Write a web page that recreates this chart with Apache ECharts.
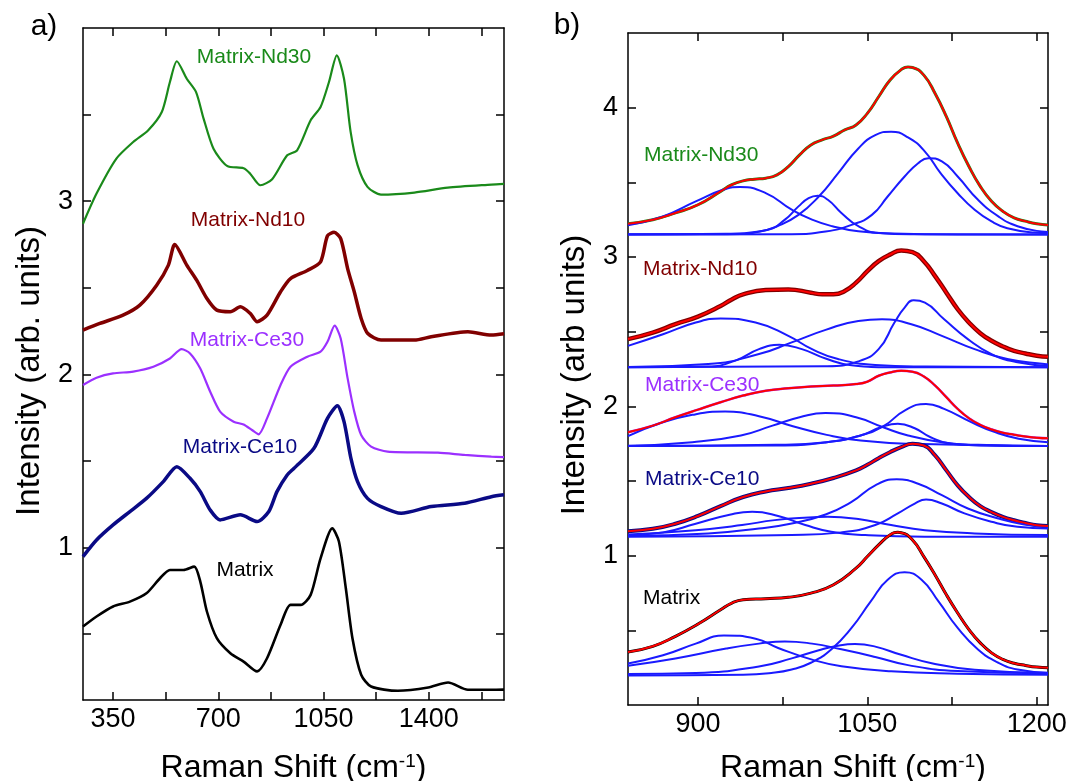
<!DOCTYPE html>
<html>
<head>
<meta charset="utf-8">
<script src="https://cdn.jsdelivr.net/npm/echarts@6/dist/echarts.min.js"></script>
<style>
  html, body { margin: 0; padding: 0; background: #fff; }
  #chart { width: 1069px; height: 781px; }
</style>
</head>
<body>
<div id="chart"></div>
<script>
// ---- panel a: raw spectra [shift, intensity] ----
const specNd30 = [[250,2.87],[295,3.044],[361,3.246],[417,3.342],[467,3.41],[512,3.515],[539,3.688],[562,3.808],[595,3.707],[626,3.63],[651,3.477],[684,3.303],[729,3.204],[784,3.19],[806,3.159],[840,3.092],[879,3.127],[929,3.265],[962,3.294],[1007,3.467],[1040,3.544],[1068,3.688],[1094,3.842],[1118,3.707],[1140,3.40],[1163,3.208],[1196,3.083],[1241,3.038],[1352,3.05],[1463,3.078],[1608,3.096],[1650,3.10]]
const specNd10 = [[250,2.256],[306,2.294],[383,2.342],[439,2.40],[495,2.515],[534,2.631],[555,2.75],[595,2.631],[628,2.544],[662,2.438],[695,2.371],[740,2.362],[773,2.39],[806,2.352],[829,2.304],[862,2.342],[907,2.477],[940,2.553],[996,2.60],[1040,2.65],[1063,2.80],[1085,2.82],[1107,2.784],[1130,2.611],[1152,2.477],[1175,2.323],[1197,2.236],[1241,2.198],[1352,2.198],[1408,2.217],[1530,2.246],[1608,2.227],[1650,2.235]]
const specCe30 = [[250,1.939],[295,1.981],[350,2.006],[417,2.016],[484,2.044],[539,2.092],[578,2.146],[606,2.121],[640,2.034],[673,1.90],[706,1.785],[751,1.727],[784,1.711],[812,1.679],[834,1.654],[862,1.746],[907,1.939],[940,2.044],[996,2.102],[1040,2.131],[1063,2.188],[1087,2.281],[1107,2.207],[1130,1.977],[1152,1.785],[1175,1.65],[1208,1.583],[1263,1.554],[1430,1.548],[1519,1.535],[1608,1.525],[1650,1.522]]
const specCe10 = [[250,0.948],[295,1.044],[350,1.131],[406,1.208],[461,1.284],[517,1.381],[562,1.467],[606,1.40],[640,1.323],[673,1.217],[706,1.16],[773,1.189],[829,1.15],[868,1.208],[895,1.323],[929,1.419],[951,1.457],[1018,1.573],[1063,1.746],[1096,1.819],[1118,1.727],[1141,1.515],[1163,1.381],[1196,1.284],[1241,1.237],[1308,1.198],[1408,1.237],[1519,1.256],[1608,1.294],[1650,1.305]]
const specMatrix = [[250,0.544],[295,0.602],[350,0.66],[406,0.688],[461,0.736],[506,0.823],[539,0.871],[584,0.871],[620,0.89],[640,0.804],[662,0.631],[695,0.477],[740,0.39],[784,0.342],[829,0.285],[862,0.361],[907,0.554],[940,0.669],[974,0.669],[1007,0.727],[1040,0.938],[1079,1.111],[1101,1.035],[1124,0.765],[1146,0.477],[1175,0.266],[1208,0.198],[1297,0.173],[1398,0.192],[1464,0.221],[1530,0.179],[1608,0.179],[1650,0.18]]

// ---- panel b: fitted envelopes (data drawn on the same points) ----
const fitNd30 = [[838,3.223],[860,3.25],[880,3.295],[900,3.35],[920,3.439],[930,3.484],[940,3.51],[950,3.521],[960,3.528],[970,3.55],[980,3.606],[990,3.684],[1000,3.75],[1010,3.784],[1020,3.81],[1030,3.851],[1040,3.884],[1050,3.962],[1060,4.073],[1070,4.184],[1080,4.255],[1086,4.273],[1090,4.269],[1100,4.218],[1110,4.095],[1120,3.94],[1130,3.762],[1140,3.606],[1150,3.473],[1160,3.373],[1170,3.306],[1180,3.262],[1190,3.24],[1200,3.223],[1210,3.215]]
const fitNd10 = [[838,2.45],[860,2.494],[880,2.55],[900,2.601],[920,2.672],[930,2.716],[940,2.75],[960,2.779],[980,2.783],[1000,2.761],[1010,2.75],[1020,2.75],[1030,2.772],[1040,2.828],[1050,2.905],[1060,2.972],[1070,3.016],[1080,3.043],[1090,3.032],[1100,2.972],[1110,2.872],[1120,2.761],[1130,2.65],[1140,2.561],[1150,2.49],[1160,2.439],[1170,2.401],[1180,2.372],[1190,2.354],[1200,2.339],[1210,2.332]]
const fitCe30 = [[838,1.827],[860,1.871],[880,1.927],[900,1.978],[920,2.027],[940,2.072],[960,2.105],[980,2.121],[1000,2.132],[1020,2.139],[1040,2.149],[1050,2.165],[1060,2.205],[1070,2.227],[1080,2.238],[1090,2.232],[1100,2.2],[1110,2.139],[1120,2.061],[1130,1.983],[1140,1.92],[1150,1.876],[1160,1.845],[1170,1.823],[1180,1.81],[1190,1.798],[1200,1.79],[1210,1.786]]
const fitCe10 = [[838,1.164],[860,1.18],[880,1.214],[900,1.266],[920,1.332],[940,1.393],[960,1.43],[980,1.453],[1000,1.482],[1020,1.52],[1040,1.571],[1050,1.609],[1060,1.653],[1070,1.693],[1080,1.727],[1090,1.749],[1100,1.738],[1110,1.671],[1120,1.571],[1130,1.471],[1140,1.393],[1150,1.332],[1160,1.292],[1170,1.26],[1180,1.237],[1190,1.219],[1200,1.204],[1210,1.198]]
const fitMatrix = [[838,0.355],[860,0.393],[880,0.46],[900,0.542],[920,0.638],[930,0.683],[940,0.705],[960,0.712],[980,0.721],[1000,0.749],[1020,0.805],[1040,0.916],[1050,0.994],[1060,1.072],[1070,1.139],[1077,1.156],[1080,1.154],[1090,1.105],[1100,0.994],[1110,0.871],[1120,0.738],[1130,0.616],[1140,0.505],[1150,0.416],[1160,0.349],[1170,0.305],[1180,0.28],[1190,0.265],[1200,0.254],[1210,0.25]]

// ---- panel b: fitted components ----
const compNd30 = [
  [[838,3.212],[869,3.272],[898,3.372],[922,3.45],[937,3.468],[960,3.428],[983,3.317],[1001,3.25],[1019,3.206],[1042,3.172],[1072,3.157],[1130,3.15],[1210,3.15]],
  [[838,3.152],[925,3.153],[962,3.183],[977,3.25],[989,3.339],[998,3.394],[1006,3.41],[1015,3.383],[1027,3.295],[1042,3.206],[1060,3.161],[1090,3.152],[1210,3.15]],
  [[838,3.15],[925,3.155],[954,3.171],[971,3.209],[989,3.282],[1007,3.405],[1024,3.56],[1042,3.727],[1057,3.816],[1071,3.839],[1086,3.801],[1101,3.706],[1115,3.56],[1130,3.427],[1145,3.316],[1160,3.238],[1174,3.193],[1198,3.164],[1210,3.16]],
  [[838,3.15],[983,3.153],[1013,3.171],[1036,3.215],[1054,3.282],[1068,3.405],[1083,3.539],[1095,3.628],[1104,3.662],[1116,3.64],[1130,3.539],[1148,3.383],[1166,3.272],[1183,3.206],[1204,3.171],[1210,3.168]]
]
const compNd10 = [
  [[838,2.405],[869,2.483],[898,2.561],[920,2.588],[951,2.561],[980,2.472],[1001,2.383],[1024,2.317],[1057,2.277],[1101,2.266],[1210,2.261]],
  [[838,2.262],[909,2.266],[933,2.306],[954,2.383],[972,2.412],[992,2.383],[1013,2.32],[1036,2.275],[1071,2.261],[1210,2.261]],
  [[838,2.263],[909,2.283],[954,2.35],[983,2.428],[1013,2.512],[1042,2.572],[1063,2.583],[1089,2.55],[1116,2.472],[1145,2.383],[1174,2.317],[1207,2.283],[1210,2.281]],
  [[838,2.262],[1013,2.268],[1042,2.301],[1060,2.383],[1074,2.561],[1083,2.661],[1091,2.71],[1101,2.694],[1118,2.583],[1139,2.45],[1160,2.35],[1183,2.295],[1210,2.272]]
]
const compCe30 = [
  [[838,1.80],[865,1.883],[895,1.943],[924,1.965],[954,1.934],[984,1.867],[1014,1.809],[1044,1.771],[1089,1.749],[1210,1.734]],
  [[838,1.736],[895,1.76],[938,1.805],[966,1.871],[990,1.927],[1013,1.956],[1040,1.927],[1064,1.860],[1086,1.805],[1116,1.76],[1148,1.742],[1210,1.734]],
  [[838,1.734],[969,1.742],[1014,1.76],[1044,1.805],[1062,1.86],[1077,1.883],[1092,1.853],[1106,1.793],[1124,1.749],[1150,1.738],[1210,1.734]],
  [[838,1.734],[969,1.738],[1014,1.76],[1044,1.805],[1065,1.871],[1083,1.972],[1102,2.016],[1118,1.983],[1142,1.894],[1163,1.827],[1184,1.783],[1210,1.76]]
]
const compCe10 = [
  [[838,1.138],[869,1.156],[898,1.214],[928,1.274],[948,1.294],[971,1.266],[995,1.205],[1018,1.16],[1048,1.138],[1101,1.127],[1210,1.127]],
  [[838,1.142],[898,1.171],[939,1.205],[968,1.238],[998,1.256],[1015,1.26],[1042,1.245],[1071,1.205],[1101,1.171],[1145,1.149],[1210,1.138]],
  [[838,1.133],[909,1.149],[954,1.182],[983,1.216],[1013,1.276],[1036,1.36],[1057,1.471],[1076,1.511],[1095,1.482],[1116,1.405],[1139,1.316],[1166,1.249],[1189,1.209],[1210,1.193]],
  [[838,1.127],[983,1.138],[1027,1.156],[1057,1.205],[1077,1.283],[1092,1.349],[1102,1.376],[1116,1.349],[1136,1.283],[1160,1.227],[1183,1.193],[1210,1.182]]
]
const compMatrix = [
  [[838,0.278],[869,0.333],[898,0.411],[923,0.466],[951,0.444],[971,0.382],[1001,0.304],[1027,0.26],[1071,0.226],[1130,0.21],[1210,0.203]],
  [[838,0.263],[880,0.312],[925,0.378],[954,0.411],[977,0.426],[1001,0.411],[1027,0.373],[1057,0.322],[1086,0.267],[1130,0.227],[1210,0.212]],
  [[838,0.207],[898,0.214],[954,0.258],[983,0.312],[1007,0.367],[1024,0.397],[1039,0.408],[1057,0.391],[1080,0.336],[1107,0.28],[1145,0.236],[1210,0.214]],
  [[838,0.198],[940,0.203],[965,0.215],[983,0.238],[1000,0.283],[1018,0.372],[1036,0.516],[1053,0.694],[1068,0.838],[1083,0.889],[1098,0.838],[1113,0.694],[1130,0.516],[1148,0.372],[1166,0.283],[1183,0.238],[1210,0.216]]
]

// ---- axis ticks / labels ----
const xTicksA = [350, 525, 700, 875, 1050, 1225, 1400, 1575]
const xLabelsA = [350, 700, 1050, 1400]
const yTicksA = [0.5, 1, 1.5, 2, 2.5, 3, 3.5]
const yLabelsA = [1, 2, 3]
const xTicksB = [900, 975, 1050, 1125, 1200]
const xLabelsB = [900, 1050, 1200]
const yTicksB = [0.5, 1, 1.5, 2, 2.5, 3, 3.5, 4]
const yLabelsB = [1, 2, 3, 4]

const FONT = '"Liberation Sans", Arial, sans-serif'
const C_ND30 = '#1a8a1a', C_ND10 = '#800000', C_CE30 = '#9b30ff', C_CE10 = '#0a0a85', C_MAT = '#000000'
const C_FIT = '#ff0000', C_COMP = '#1a1aff'

const chart = echarts.init(document.getElementById('chart'), null, { renderer: 'canvas' })

function axis(grid, dim, pos, min, max, ticks, labels, name, gap, pad) {
  const a = {
    gridIndex: grid, type: 'value', position: pos, min, max,
    axisLine: { show: true, onZero: false, lineStyle: { color: '#000', width: 1.5 } },
    axisTick: { show: true, inside: true, length: 8, customValues: ticks, lineStyle: { color: '#000', width: 1.5 } },
    axisLabel: labels
      ? { customValues: labels, formatter: v => String(v), color: '#000', fontSize: 27, fontFamily: FONT, margin: dim === 'x' ? 6 : 10 }
      : { show: false },
    splitLine: { show: false },
  }
  if (name) {
    const fs = dim === 'x' ? 32 : 33
    a.name = name
    a.nameLocation = 'middle'
    a.nameGap = gap
    a.nameTextStyle = {
      color: '#000', fontSize: fs, fontFamily: FONT, padding: pad || 0,
      rich: {
        n: { fontSize: fs, fontFamily: FONT, color: '#000' },
        s: { fontSize: 19, fontFamily: FONT, color: '#000', verticalAlign: 'top' },
      },
    }
  }
  return a
}

function line(data, color, width, idx, smooth) {
  return {
    type: 'line', data, xAxisIndex: idx, yAxisIndex: idx,
    symbol: 'none', showSymbol: false, smooth,
    lineStyle: { color, width }, silent: true, animation: false,
  }
}

const series = [
  line(specNd30, C_ND30, 2.2, 0, 0.25),
  line(specNd10, C_ND10, 3.5, 0, 0.25),
  line(specCe30, C_CE30, 2.2, 0, 0.25),
  line(specCe10, C_CE10, 3.5, 0, 0.25),
  line(specMatrix, C_MAT, 2.6, 0, 0.25),
]
const panelB = [
  [fitNd30, compNd30, C_ND30, 3],
  [fitNd10, compNd10, C_ND10, 4.5],
  [fitCe30, compCe30, C_CE30, 2.5],
  [fitCe10, compCe10, C_CE10, 4],
  [fitMatrix, compMatrix, C_MAT, 3],
]
for (const [fit, comps, color, w] of panelB) {
  series.push(line(fit, color, w, 2, 0.5))
  for (const c of comps) series.push(line(c, C_COMP, 2, 2, 0.5))
  series.push(line(fit, C_FIT, 2, 2, 0.5))
}

function label(text, x, y, color, align) {
  return {
    type: 'text', x, y, silent: true,
    style: { text, fill: color, font: '21px ' + FONT, textAlign: align || 'center', textVerticalAlign: 'middle', align: align || 'center', verticalAlign: 'middle' },
  }
}

const ramanName = '{n|Raman Shift (cm}{s|-1}{n|)}'

chart.setOption({
  backgroundColor: '#fff',
  animation: false,
  grid: [
    { left: 83, top: 28, width: 421, height: 672, outerBoundsMode: 'none' },
    { left: 628, top: 33, width: 420, height: 672, outerBoundsMode: 'none' },
  ],
  xAxis: [
    axis(0, 'x', 'bottom', 250, 1650, xTicksA, xLabelsA, ramanName, 52),
    axis(0, 'x', 'top', 250, 1650, xTicksA, null),
    axis(1, 'x', 'bottom', 838, 1210, xTicksB, xLabelsB, ramanName, 47, [0, 0, 0, 30]),
    axis(1, 'x', 'top', 838, 1210, xTicksB, null),
  ],
  yAxis: [
    axis(0, 'y', 'left', 0.12, 4, yTicksA, yLabelsA, 'Intensity (arb. units)', 37, [0, 14, 0, 0]),
    axis(0, 'y', 'right', 0.12, 4, yTicksA, null),
    axis(1, 'y', 'left', 0, 4.5, yTicksB, yLabelsB, 'Intensity (arb units)', 37, [0, 12, 0, 0]),
    axis(1, 'y', 'right', 0, 4.5, yTicksB, null),
  ],
  series,
  graphic: [
    { type: 'text', x: 44, y: 27, silent: true, style: { text: 'a)', fill: '#000', font: '30px ' + FONT, textAlign: 'center', textVerticalAlign: 'middle', align: 'center', verticalAlign: 'middle' } },
    { type: 'text', x: 567, y: 26, silent: true, style: { text: 'b)', fill: '#000', font: '30px ' + FONT, textAlign: 'center', textVerticalAlign: 'middle', align: 'center', verticalAlign: 'middle' } },
    label('Matrix-Nd30', 254, 57, C_ND30),
    label('Matrix-Nd10', 248, 220, C_ND10),
    label('Matrix-Ce30', 247, 340, C_CE30),
    label('Matrix-Ce10', 240, 447, C_CE10),
    label('Matrix', 245, 570, C_MAT),
    label('Matrix-Nd30', 644, 155, C_ND30, 'left'),
    label('Matrix-Nd10', 643, 269, C_ND10, 'left'),
    label('Matrix-Ce30', 645, 385, C_CE30, 'left'),
    label('Matrix-Ce10', 645, 479, C_CE10, 'left'),
    label('Matrix', 643, 598, C_MAT, 'left'),
  ],
})

window.addEventListener('resize', () => chart.resize())
</script>
</body>
</html>
